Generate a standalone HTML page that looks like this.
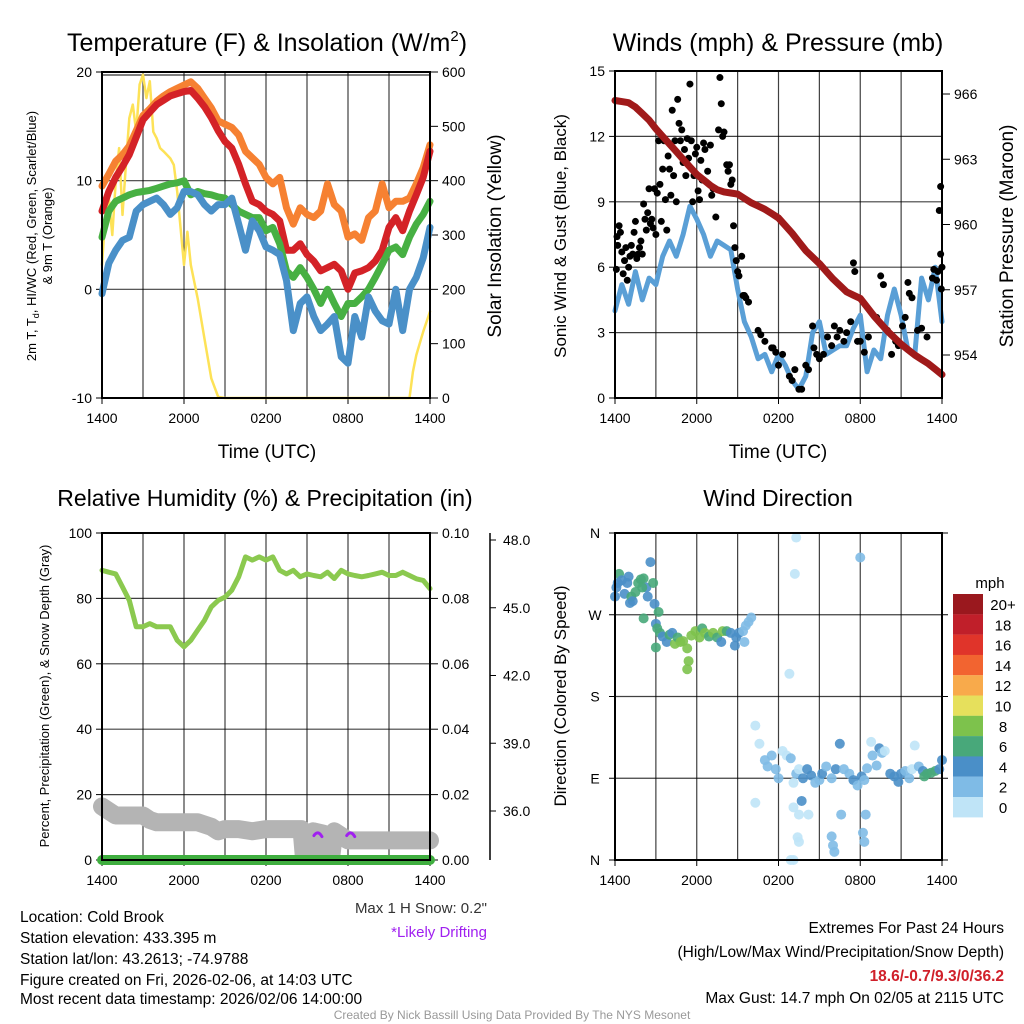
<!DOCTYPE html>
<html><head><meta charset="utf-8"><style>
html,body{margin:0;padding:0;background:#fff;}
svg{display:block;font-family:"Liberation Sans",Arial,sans-serif;}
</style></head><body>
<svg id="s" width="1024" height="1024" viewBox="0 0 1024 1024" xmlns="http://www.w3.org/2000/svg">
<g id="static">
<text x="267" y="51" font-size="25" text-anchor="middle">Temperature (F) &amp; Insolation (W/m<tspan font-size="15" dy="-10">2</tspan><tspan dy="10">)</tspan></text>
<text x="778" y="51" font-size="25" text-anchor="middle">Winds (mph) &amp; Pressure (mb)</text>
<text x="265" y="506" font-size="23" text-anchor="middle">Relative Humidity (%) &amp; Precipitation (in)</text>
<text x="778" y="506" font-size="23" text-anchor="middle">Wind Direction</text>
<text x="267" y="458" font-size="19" text-anchor="middle">Time (UTC)</text>
<text x="778" y="458" font-size="19" text-anchor="middle">Time (UTC)</text>
<text transform="translate(36,236) rotate(-90)" font-size="13" text-anchor="middle">2m T, T<tspan font-size="9" dy="3">d</tspan><tspan dy="-3">, HI/WC (Red, Green, Scarlet/Blue)</tspan></text>
<text transform="translate(52,236) rotate(-90)" font-size="13" text-anchor="middle">&amp; 9m T (Orange)</text>
<text transform="translate(501,236) rotate(-90)" font-size="19" text-anchor="middle">Solar Insolation (Yellow)</text>
<text transform="translate(566,236) rotate(-90)" font-size="17" text-anchor="middle">Sonic Wind &amp; Gust (Blue, Black)</text>
<text transform="translate(1013,236) rotate(-90)" font-size="19" text-anchor="middle">Station Pressure (Maroon)</text>
<text transform="translate(49,696) rotate(-90)" font-size="13" text-anchor="middle">Percent, Precipitation (Green), &amp; Snow Depth (Gray)</text>
<text transform="translate(566,696) rotate(-90)" font-size="17" text-anchor="middle">Direction (Colored By Speed)</text>
<text x="487" y="913" font-size="15" text-anchor="end" fill="#333">Max 1 H Snow: 0.2"</text>
<text x="487" y="937" font-size="15" text-anchor="end" fill="#a020f0">*Likely Drifting</text>
<g font-size="15.5">
<text x="20" y="922">Location: Cold Brook</text>
<text x="20" y="943">Station elevation: 433.395 m</text>
<text x="20" y="964">Station lat/lon: 43.2613; -74.9788</text>
<text x="20" y="985">Figure created on Fri, 2026-02-06, at 14:03 UTC</text>
<text x="20" y="1004">Most recent data timestamp: 2026/02/06 14:00:00</text>
</g>
<g font-size="15.5" text-anchor="end">
<text x="1004" y="933">Extremes For Past 24 Hours</text>
<text x="1004" y="957">(High/Low/Max Wind/Precipitation/Snow Depth)</text>
<text x="1004" y="981" fill="#d0202a" font-weight="bold">18.6/-0.7/9.3/0/36.2</text>
<text x="1004" y="1003">Max Gust: 14.7 mph On 02/05 at 2115 UTC</text>
</g>
<text x="512" y="1019" font-size="12" text-anchor="middle" fill="#999">Created By Nick Bassill Using Data Provided By The NYS Mesonet</text>
</g>
</svg>
<script>
// ---------- data ----------
const hours = [0,0.5,1,1.5,2,2.5,3,3.5,4,4.5,5,5.5,6,6.5,7,7.5,8,8.5,9,9.5,10,10.5,11,11.5,12,12.5,13,13.5,14,14.5,15,15.5,16,16.5,17,17.5,18,18.5,19,19.5,20,20.5,21,21.5,22,22.5,23,23.5,24];
const tempRed = [7.2,9,10.3,11.3,12.4,14,15.6,16.3,17,17.4,17.8,18,18.2,18.3,17.6,16.8,15.8,14.6,13.6,13,11.5,9.7,8.1,7.8,7.2,6.9,6.3,3.6,3.6,4.2,3.2,2.6,1.7,2,2.3,1.7,0,1.5,1.7,2,2.6,3.6,5.7,6.6,5.4,7.2,8.7,10.3,12.7];
const temp9m = [9.5,10.6,11.8,12.4,13.2,14.6,16,16.6,17.3,17.8,18.2,18.5,18.8,19.1,18.5,17.6,16.7,15.5,15.2,14.9,14.2,12.7,12.1,11.5,10.3,9.7,10.3,7.5,6,7.5,6.9,6.6,7.2,9.7,7.8,7.2,4.8,5.1,4.5,6.6,7.2,9.7,7.5,8.1,8.1,8.4,9.7,11.2,13.3];
const dewpt = [4.8,7.2,8.1,8.4,8.7,8.9,9,9.1,9.3,9.5,9.7,9.8,10,8.7,9,8.8,8.7,8.5,8.4,7.8,7.2,6.9,6.6,6.6,5.4,5.7,4.2,1.7,1.1,2,1.1,0,-1.3,0,-1.3,-2.5,-1.3,-1.3,-0.7,0,1.1,2.3,3.6,3.9,3.2,4.8,6,6.9,8.1];
const heatWind = [-0.4,2.4,3.6,4.5,4.8,7.2,7.8,8.1,8.4,7.8,6.9,7.5,9,9,8.7,7.8,7.2,7.8,7.8,8.4,6,3.6,6.3,5.4,3.9,3.6,3.2,0.8,-3.8,-1.3,-0.7,-2.5,-3.8,-3.2,-2.5,-6.2,-6.8,-2.5,-4.4,-0.7,-2,-2.9,-3.2,0,-3.8,0,1.1,2.9,5.7];
const solarHours = [0,0.25,0.5,0.75,1,1.25,1.5,1.75,2,2.25,2.5,2.75,3,3.25,3.5,3.75,4,4.25,4.5,5,5.25,5.5,6,6.25,6.5,7,7.5,8,8.5,9,22.5,22.75,23,23.5,24];
const solar = [245,337,368,300,398,460,337,429,515,540,490,577,595,552,583,490,478,460,454,441,429,380,245,306,245,183,109,36,2,0,0,48,79,122,159];
const pressure = [965.7,965.65,965.6,965.4,965.1,964.8,964.4,964.05,963.7,963.35,963,962.65,962.3,962.05,961.8,961.6,961.5,961.45,961.4,961.2,961,960.85,960.7,960.5,960.3,959.95,959.6,959.2,958.8,958.5,958.2,957.85,957.5,957.2,956.9,956.75,956.6,956.2,955.8,955.45,955.1,954.8,954.5,954.25,954,953.8,953.6,953.35,953.1];
const sonicWind = [4,5.2,4.3,5.8,4.5,5.5,5.2,6.5,7.2,6.5,7.5,8.8,8.2,7.5,6.5,7.2,7,6.8,5,3.5,2.8,1.8,2,1.2,2,1.5,0.8,0.4,1,3,3.5,2,2.2,2.4,2.4,3.2,3.8,1.2,2.2,1.8,3.8,5,3.8,2.2,2,5.5,4.5,6,3.5];
const gustHours = [0.1,0.15,0.2,0.3,0.4,0.5,0.6,0.7,0.8,0.9,1,1.1,1.2,1.3,1.4,1.5,1.6,1.7,1.8,1.9,2,2.1,2.2,2.3,2.4,2.5,2.6,2.7,2.8,2.9,3,3.1,3.2,3.3,3.4,3.5,3.6,3.7,3.8,3.9,4,4.1,4.2,4.3,4.4,4.5,4.6,4.7,4.8,4.9,5,5.1,5.2,5.3,5.4,5.5,5.6,5.7,5.8,5.9,6,6.1,6.2,6.3,6.4,6.5,6.6,6.8,7,7.1,7.2,7.4,7.6,7.7,7.8,7.9,8,8.2,8.3,8.4,8.5,8.6,8.7,8.8,8.9,9,9.1,9.3,9.4,9.5,9.6,9.8,10.5,10.7,11,11.5,11.6,11.8,12.3,12,12.8,13,13.2,13.5,13.7,14,14.2,14.5,14.6,14.8,15,15.3,15.6,15.9,16.1,16.3,16.5,16.8,17,17.5,17.6,17.3,17.8,18,18.3,18.6,19.2,19.5,19.7,20,20.3,20.6,20.8,21.1,21.3,21.5,21.6,21.8,22.2,22.5,22.9,23.3,23.6,23.7,23.9,23.8,23.9,24,23.4,23.95];
const gusts = [5.9,7.4,7,7.9,7.6,6.7,5.7,6.3,6.9,5.4,6,6.5,7,6.6,7.6,8.1,6.4,6.6,6.9,7.2,6.6,8.9,8.2,7.7,8.5,9.6,8,8.2,7.8,9.6,7.5,9.4,11.8,9.8,8.1,10.5,11.8,9.1,7.7,11.1,10.5,9.3,13.2,10.2,11.8,9,13.7,12.6,11.8,12.3,10.8,11.4,10.2,11.9,11,14.4,11.8,9,10.2,11.2,11.5,9.5,9.1,10.9,10,11.7,11.4,10.4,11.6,9.3,9.6,8.3,12.3,14.7,13.5,12,12.2,10.7,10.4,10.7,9.8,10,7.9,6.9,6.3,5.8,5.6,6.5,4.7,4.7,4.6,4.4,3.1,2.9,2.6,2.3,2.3,2.1,2,1.5,1,0.8,1.3,0.4,0.4,1.5,1.3,3.3,2.3,2,1.8,2,2.8,2.4,3.3,2.8,3.1,2.6,3,6.2,5.8,3.5,2.6,2.6,2.1,2.8,3.7,5.6,5.2,3.1,2,2.6,2.4,3.3,3.7,5.3,4.8,4.6,3.1,3.2,2.8,5.5,5.4,5.8,6.6,8.6,9.7,6,5.9,5];
const humidity = [88.6,88,87.5,83.5,79.4,71.3,71.3,72.3,71.3,71.3,71.3,67.2,65.2,67.2,70.3,73.3,77.4,79.4,80.4,82.5,86.6,92.7,91.7,92.7,91.7,92.7,88.6,87.5,88.6,86.6,87.5,87,86.6,88,86.1,88.6,87.5,87,86.6,87,87.5,88,87,87,88,87,86,85.5,83];
const snowHours = [0,0.5,1,3,3.5,4,7,8,8.5,9,10,11,12,13,14.6,14.75,15.3,15.45,16.2,16.4,16.8,17,17.5,18,24];
const snowDepth = [36.2,36,35.8,35.8,35.6,35.5,35.5,35.3,35.1,35.2,35.2,35.1,35.2,35.2,35.2,34.1,34.1,35.1,35,34.1,34.1,35.1,34.9,34.7,34.7];
const precip = [0,0];
const dirHours = [0,0.1,0.2,0.3,0.5,0.7,0.9,1,1.1,1.2,1.3,1.5,1.7,1.9,2.1,2.3,2,2.6,2.4,2.8,2.9,2.1,3.2,3,3.1,3.3,3.5,3.8,4,4.2,4.4,4.6,4.8,5,5.3,5.6,5.9,5.3,5.4,6.2,6.4,6.6,6.9,7.2,7.5,7.8,7.9,8.2,8.5,8.8,8.9,9.1,9.4,9.6,9.8,10,9.5,3,13.3,13.2,12.8,18,10.3,10.6,11,11.2,11.5,11.8,12,12.3,12.6,12.9,13.1,13.3,13.5,13.8,14.1,14.4,14.7,15,15.2,15.5,15.9,16.2,16.5,16.8,17.2,17.5,17.8,18.1,18.3,18.5,18.8,18.9,19.2,19.4,19.6,19.8,20.2,20.5,20.8,21,21.3,21.6,21.8,22,22.3,22.6,22.9,23.2,23.5,23.8,24,10.3,13.1,13.7,13.5,14.2,13.4,13.5,12.9,13.1,15.9,16,16.1,16.6,18.4,18.2,18.3,22.7];
const dirDeg = [290,300,305,315,308,293,305,312,283,290,285,295,305,309,310,300,300,328,290,305,282,266,273,260,255,250,246,240,248,250,238,245,240,241,233,247,252,210,219,245,255,250,246,250,245,240,252,252,250,236,245,250,252,258,262,267,240,234,355,315,205,333,148,128,110,103,115,100,90,120,115,112,85,95,100,90,100,93,85,88,95,103,90,100,128,100,95,88,82,92,88,101,130,115,104,123,118,120,95,92,86,95,98,90,100,126,103,98,95,96,98,100,110,63,58,65,50,50,25,20,0,0,26,16,9,50,50,30,20,92];
const dirSpeed = [4,4,4,6,4,4,4,4,4,6,4,6,6,6,6,4,6,4,4,6,4,6,6,4,6,6,4,4,6,4,8,6,8,8,8,8,8,8,8,8,6,8,6,8,6,4,8,6,4,4,4,4,2,2,2,2,2,6,0,0,0,2,0,0,2,2,2,2,2,0,0,2,0,2,0,4,4,4,2,2,4,2,2,4,4,2,2,4,2,4,2,2,0,2,2,4,2,0,4,4,4,4,2,2,0,0,2,4,6,6,6,4,4,0,0,4,0,0,0,0,0,0,2,2,2,2,2,2,2,6];
const speedLabels = ["20+","18","16","14","12","10","8","6","4","2","0"];
const speedColors = ["#9a181e","#c01f2a","#e0342a","#f26430","#f8aa4b","#e6e05c","#7dc24c","#48a87a","#4a8fc8","#7fbbe6","#bfe4f7"];
const timeLabels = ["1400","2000","0200","0800","1400"];
const tempTicks = [-10,0,10,20];
const solarTicks = [0,100,200,300,400,500,600];
const windTicks = [0,3,6,9,12,15];
const pressTicks = [954,957,960,963,966];
const rhTicks = [0,20,40,60,80,100];
const precipTicks = ["0.00","0.02","0.04","0.06","0.08","0.10"];
const snowTicks = [36,39,42,45,48];
const dirTicks = ["N","E","S","W","N"];

// ---------- helpers ----------
const NS="http://www.w3.org/2000/svg";
const svg=document.getElementById('s');
function mk(tag,attrs,parent){const e=document.createElementNS(NS,tag);for(const k in attrs)e.setAttribute(k,attrs[k]);(parent||svg).appendChild(e);return e;}
function lin(d0,d1,r0,r1){return v=>r0+(v-d0)*(r1-r0)/(d1-d0);}
function poly(xs,ys,sx,sy,color,w,parent){const pts=xs.map((h,i)=>sx(h).toFixed(1)+','+sy(ys[i]).toFixed(1)).join(' ');return mk('polyline',{points:pts,fill:'none',stroke:color,'stroke-width':w,'stroke-linejoin':'round','stroke-linecap':'round'},parent);}
function frame(L,R,T,B,sx,gridH,parent){
  for(let h=3;h<24;h+=3){mk('line',{x1:sx(h),x2:sx(h),y1:T,y2:B,stroke:'#000','stroke-width':1.2,'stroke-opacity':0.75},parent);}
  gridH.forEach(y=>mk('line',{x1:L,x2:R,y1:y,y2:y,stroke:'#000','stroke-width':1.2,'stroke-opacity':0.75},parent));
  for(let h=0;h<=24;h+=6){mk('line',{x1:sx(h),x2:sx(h),y1:B,y2:B+6,stroke:'#000','stroke-width':1},parent);}
  timeLabels.forEach((t,i)=>{const tx=mk('text',{x:sx(i*6),y:B+25,'font-size':14,'text-anchor':'middle'},parent);tx.textContent=t;});
}
function border(L,R,T,B,parent){mk('rect',{x:L,y:T,width:R-L,height:B-T,fill:'none',stroke:'#000','stroke-width':2},parent);}
function leftTicks(vals,sy,L,parent,labels){vals.forEach((v,i)=>{const y=sy(v);mk('line',{x1:L-6,x2:L,y1:y,y2:y,stroke:'#000'},parent);const t=mk('text',{x:L-10,y:y+5,'font-size':14,'text-anchor':'end'},parent);t.textContent=labels?labels[i]:v;});}
function rightTicks(vals,sy,R,parent,labels){vals.forEach((v,i)=>{const y=sy(v);mk('line',{x1:R,x2:R+8,y1:y,y2:y,stroke:'#000'},parent);const t=mk('text',{x:R+12,y:y+5,'font-size':14,'text-anchor':'start'},parent);t.textContent=labels?labels[i]:v;});}

// ---------- panel 1: temperature ----------
(function(){
  const g=mk('g',{});
  
  
  const L=102,R=430,T=72,B=398;
  const sx=lin(0,24,L,R), sy=lin(-10,20,B,T), ss=lin(0,600,B,T);
  frame(L,R,T,B,sx,[sy(0),sy(10)],g);
  mk('line',{x1:L,x2:R,y1:T+3,y2:T+3,stroke:'#000','stroke-width':1},g);
  leftTicks(tempTicks,sy,L,g);
  rightTicks(solarTicks,ss,R,g);
  const sl=poly(solarHours,solar,sx,ss,'#fde257',2.5,g);
  
  
  const o=poly(hours,temp9m,sx,sy,'#f68132',7,g);
  
  
  const r=poly(hours,tempRed,sx,sy,'#d42227',7,g);
  
  
  const gr=poly(hours,dewpt,sx,sy,'#47b043',7,g);
  
  
  const b=poly(hours,heatWind,sx,sy,'#4a90c8',7,g);
  
  
  border(L,R,T,B,g);
})();

// ---------- panel 2: winds ----------
(function(){
  const g=mk('g',{});
  
  
  const L=615,R=942,T=71,B=398;
  const sx=lin(0,24,L,R), sy=lin(0,15,B,T), sp=lin(954,966,355,94);
  frame(L,R,T,B,sx,windTicks.slice(1,5).map(sy),g);
  leftTicks(windTicks,sy,L,g);
  rightTicks(pressTicks,sp,R,g);
  const w=poly(hours,sonicWind,sx,sy,'#5a9fd6',5,g);
  
  
  gustHours.forEach((h,i)=>{
    const c=mk('circle',{cx:sx(h),cy:sy(gusts[i]),r:3.5,fill:'#000'},g);
    
    
  });
  const p=poly(hours,pressure,sx,sp,'#a01a1a',7,g);
  
  
  border(L,R,T,B,g);
})();

// ---------- panel 3: humidity ----------
(function(){
  const g=mk('g',{});
  
  
  const L=102,R=430,T=533,B=860;
  const sx=lin(0,24,L,R), sy=lin(0,100,B,T), sn=lin(36,48,811,540);
  frame(L,R,T,B,sx,[20,40,60,80].map(sy),g);
  leftTicks(rhTicks,sy,L,g);
  rightTicks(rhTicks,sy,R,g,precipTicks);
  mk('line',{x1:490,x2:490,y1:T,y2:B,stroke:'#000','stroke-width':1.5},g);
  snowTicks.forEach(v=>{const y=sn(v);mk('line',{x1:490,x2:496,y1:y,y2:y,stroke:'#000'},g);const t=mk('text',{x:503,y:y+5,'font-size':14},g);t.textContent=v.toFixed(1);});
  const s=poly(snowHours,snowDepth,sx,sn,'#b4b4b4',18,g);
  
  
  [15.8,18.2].forEach(h=>{const x=sx(h),y=sn(35.0);const a=mk('path',{d:`M${x-4},${y+2} Q${x},${y-4} ${x+4},${y+3}`,fill:'none',stroke:'#a020f0','stroke-width':3,'stroke-linecap':'round'},g);
    
    });
  const pr=poly([0,24],precip,sx,v=>sy(0)+v,'#3fae3f',10,g);
  
  
  const h=poly(hours,humidity,sx,sy,'#8bc94f',5,g);
  
  
  border(L,R,T,B,g);
})();

// ---------- panel 4: wind direction ----------
(function(){
  const g=mk('g',{});
  
  
  const L=615,R=942,T=533,B=860;
  const sx=lin(0,24,L,R), sy=lin(0,360,B,T);
  frame(L,R,T,B,sx,[90,180,270].map(sy),g);
  [0,90,180,270,360].forEach((v,i)=>{const y=sy(v);mk('line',{x1:L-6,x2:L,y1:y,y2:y,stroke:'#000'},g);mk('line',{x1:R,x2:R+6,y1:y,y2:y,stroke:'#000'},g);const t=mk('text',{x:L-20,y:y+5,'font-size':14,'text-anchor':'middle'},g);t.textContent=dirTicks[i];});
  dirHours.forEach((h,i)=>{
    const idx=10-Math.min(10,Math.round(dirSpeed[i]/2));
    const c=mk('circle',{cx:sx(h),cy:sy(dirDeg[i]),r:5,fill:speedColors[idx],'fill-opacity':0.9},g);
    
    
  });
  border(L,R,T,B,g);
  const cb=mk('g',{},g);
  
  
  const t0=mk('text',{x:990,y:588,'font-size':15,'text-anchor':'middle'},cb);t0.textContent='mph';
  speedLabels.forEach((lab,i)=>{
    const y=594+i*20.3;
    mk('rect',{x:953,y:y,width:30,height:20.4,fill:speedColors[i]},cb);
    const t=mk('text',{x:1003,y:y+16,'font-size':15,'text-anchor':'middle'},cb);t.textContent=lab;
  });
})();
</script>
</body></html>
